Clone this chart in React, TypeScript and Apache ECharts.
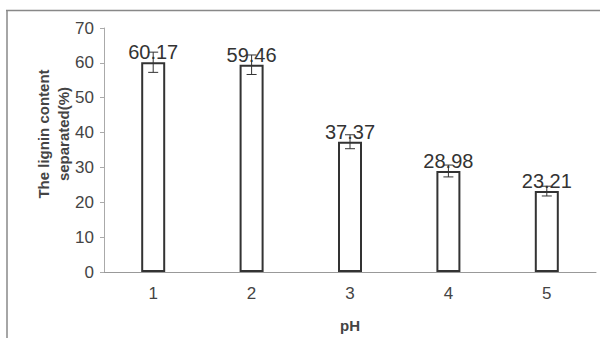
import React, { useEffect, useRef } from "react";
import * as echarts from "echarts";

const categories = ["1", "2", "3", "4", "5"];
const values = [60.17, 59.46, 37.37, 28.98, 23.21];
const errors = [2.9, 2.8, 2.0, 1.7, 1.4];
const yTicks = [0, 10, 20, 30, 40, 50, 60, 70];
const yAxisTitle = "The lignin content\nseparated(%)";
const xAxisTitle = "pH";

export default function App() {
  const ref = useRef<HTMLDivElement>(null);
  useEffect(() => {
    if (!ref.current) return;
    const chart = echarts.init(ref.current, null, { renderer: "svg" });
    const font = "'Liberation Sans', Arial, sans-serif";
    chart.setOption({
      animation: false,
      backgroundColor: "#ffffff",
      grid: { left: 104, right: 14, top: 28, bottom: 65 },
      graphic: [
        { type: "line", shape: { x1: 6, y1: 10.5, x2: 600, y2: 10.5 }, style: { stroke: "#888", lineWidth: 1.5 } },
        { type: "line", shape: { x1: 7, y1: 10, x2: 7, y2: 338 }, style: { stroke: "#888", lineWidth: 1.5 } },
        {
          type: "text",
          x: 53,
          y: 134,
          rotation: Math.PI / 2,
          style: {
            text: yAxisTitle,
            fontFamily: font,
            fontSize: 15,
            fontWeight: "bold",
            fill: "#444",
            textAlign: "center",
            textVerticalAlign: "middle",
            lineHeight: 20,
          },
        },
      ],
      xAxis: {
        type: "category",
        data: categories,
        name: xAxisTitle,
        nameLocation: "middle",
        nameGap: 46,
        nameTextStyle: { fontFamily: font, fontSize: 15, fontWeight: "bold", color: "#444" },
        axisLine: { lineStyle: { color: "#999", width: 1 } },
        axisTick: { show: false },
        axisLabel: { fontFamily: font, fontSize: 17, color: "#444", margin: 13 },
      },
      yAxis: {
        type: "value",
        min: 0,
        max: 70,
        interval: 10,
        axisLine: { show: true, lineStyle: { color: "#aaa", width: 1 } },
        axisTick: { show: true, length: 4, lineStyle: { color: "#aaa" } },
        splitLine: { show: false },
        axisLabel: {
          fontFamily: font,
          fontSize: 17,
          color: "#444",
          margin: 10,
          formatter: (v: number) => (yTicks.includes(v) ? String(v) : ""),
        },
      },
      series: [
        {
          type: "bar",
          data: values,
          barWidth: 24,
          itemStyle: { color: "#ffffff", borderColor: "#333", borderWidth: 2 },
          label: {
            show: true,
            position: "top",
            distance: 0,
            fontFamily: font,
            fontSize: 20,
            color: "#333",
            formatter: (p: any) => values[p.dataIndex].toFixed(2),
          },
          z: 2,
        },
        {
          type: "custom",
          data: values.map((v, i) => [i, v, errors[i]]),
          z: 3,
          renderItem: (params: any, api: any) => {
            const x = api.value(0);
            const v = api.value(1);
            const e = api.value(2);
            const top = api.coord([x, v + e]);
            const bot = api.coord([x, v - e]);
            const hw = 5;
            const style = { stroke: "#333", lineWidth: 1 };
            return {
              type: "group",
              children: [
                { type: "line", shape: { x1: top[0], y1: top[1], x2: bot[0], y2: bot[1] }, style },
                { type: "line", shape: { x1: top[0] - hw, y1: top[1], x2: top[0] + hw, y2: top[1] }, style },
                { type: "line", shape: { x1: bot[0] - hw, y1: bot[1], x2: bot[0] + hw, y2: bot[1] }, style },
              ],
            };
          },
        },
      ],
    });
    return () => chart.dispose();
  }, []);
  return <div ref={ref} style={{ width: 610, height: 338, position: "absolute", left: 0, top: 0 }} />;
}
